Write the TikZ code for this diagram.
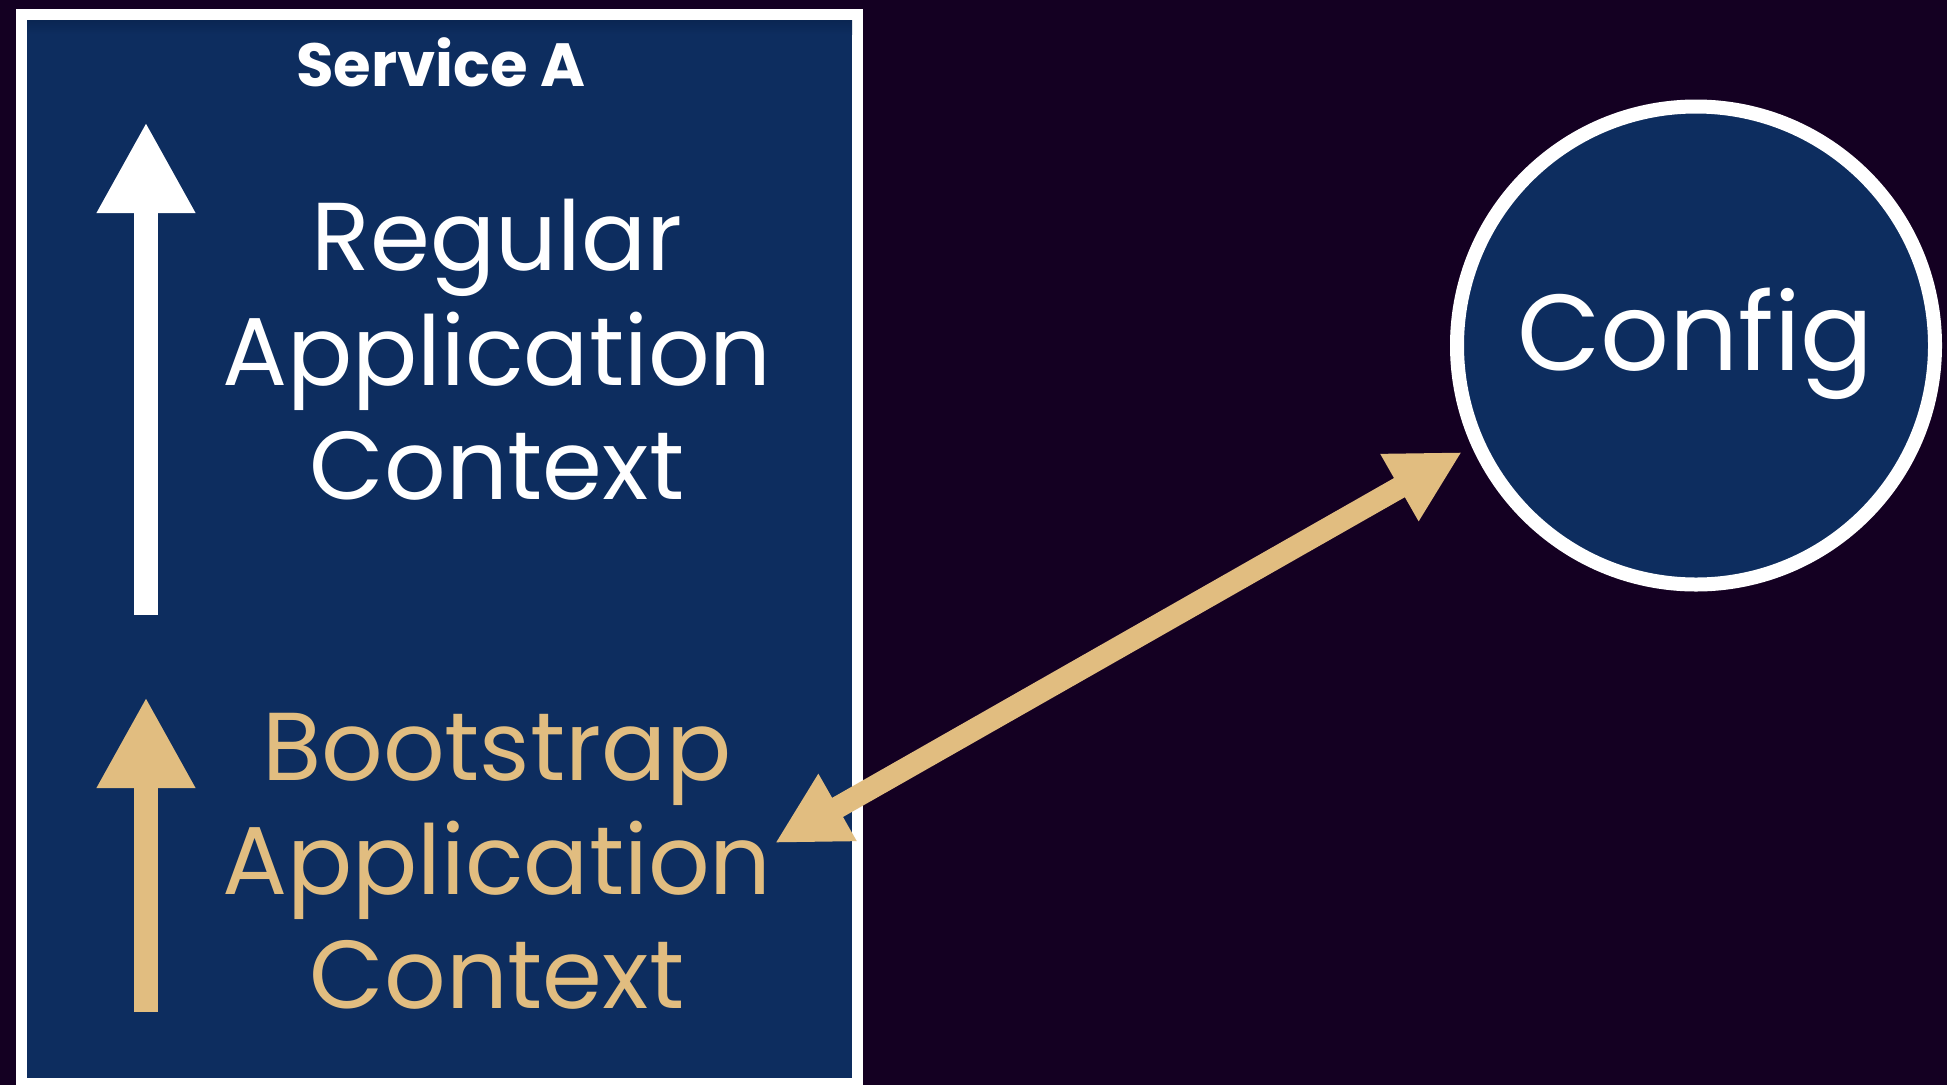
\documentclass[tikz,border=0pt]{standalone}
\usepackage{fontspec}
\setmainfont{Poppins}
\usetikzlibrary{arrows.meta}
\definecolor{bg}{RGB}{20,0,34}
\definecolor{navy}{RGB}{13,45,95}
\definecolor{navydark}{RGB}{10,38,82}
\definecolor{gold}{RGB}{225,189,128}
\tikzset{
  bigtext/.style={anchor=base, inner sep=0pt, font=\fontsize{96.5}{110}\selectfont},
  titletext/.style={anchor=base, inner sep=0pt, text=white, font=\bfseries\fontsize{61}{70}\selectfont},
  frame/.style={draw=white, line width=11pt, fill=navy, inner sep=0pt, outer sep=0pt, anchor=north west},
  ring/.style={circle, draw=white, line width=14pt, fill=navy, inner sep=0pt, outer sep=0pt},
  uparrow/.style={line width=24pt, -{Triangle[length=91pt,width=92pt]}},
  linkarrow/.style={gold, line width=22pt, {Triangle[length=72pt,width=72pt]}-{Triangle[length=72pt,width=72pt]}}
}
\begin{document}
\begin{tikzpicture}[x=1pt,y=-1pt]
\useasboundingbox (0,0) rectangle (1947,1085);
\fill[bg] (0,0) rectangle (1947,1085);
\clip (0,0) rectangle (1947,1085);

% Service A box
\node[frame, minimum width=836pt, minimum height=1069pt] (svc) at (21.5,14.5) {};
\shade[top color=navydark, bottom color=navy] (27,20) rectangle (852,34);
\node[titletext] (svcTitle) at (441,86.7) {Service A};

% Regular application context
\node[bigtext, text=white] (reg1) at (497,270) {Regular};
\node[bigtext, text=white] (reg2) at (497,385) {Application};
\node[bigtext, text=white] (reg3) at (497,499) {Context};

% Bootstrap application context
\node[bigtext, text=gold] (boot1) at (497,780) {Bootstrap};
\node[bigtext, text=gold] (boot2) at (497,894) {Application};
\node[bigtext, text=gold] (boot3) at (497,1008) {Context};

% vertical arrows
\coordinate (wBot) at (146,614.6);
\coordinate (wTop) at (146,122);
\draw[uparrow, white] (wBot) -- (wTop);
\coordinate (gBot) at (146,1012);
\coordinate (gTop) at (146,697);
\draw[uparrow, gold] (gBot) -- (gTop);

% Config circle
\node[ring, minimum size=478pt] (config) at (1696,345.5) {};
\node[bigtext, text=white, font=\fontsize{108}{120}\selectfont] (configText) at (1695.5,370) {Config};

% link arrow
\coordinate (linkLow) at (775,843);
\coordinate (linkHigh) at (1462,452);
\draw[linkarrow] (linkLow) -- (linkHigh);
\end{tikzpicture}
\end{document}
